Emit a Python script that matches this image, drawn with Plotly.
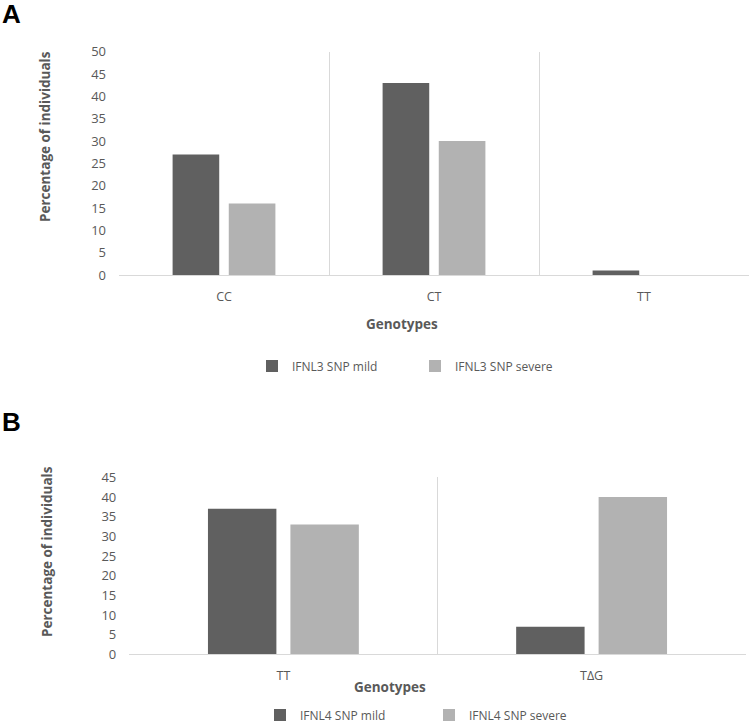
import plotly.graph_objects as go

# ---- data ----
genotypes_a = ["CC", "CT", "TT"]
ifnl3_mild = [27, 43, 1]
ifnl3_severe = [16, 30, 0]

genotypes_b = ["TT", "TΔG"]
ifnl4_mild = [37, 7]
ifnl4_severe = [33, 40]

yticks_a = [0, 5, 10, 15, 20, 25, 30, 35, 40, 45, 50]
yticks_b = [0, 5, 10, 15, 20, 25, 30, 35, 40, 45]

DARK = "#606060"
LIGHT = "#b2b2b2"
TXT = "#595959"
GRID = "#d9d9d9"
FONT = "Open Sans"
W, H = 750, 723

fig = go.Figure()
fig.add_trace(go.Bar(x=genotypes_a, y=ifnl3_mild, name="IFNL3 SNP mild",
                     marker=dict(color=DARK), xaxis="x", yaxis="y", legend="legend"))
fig.add_trace(go.Bar(x=genotypes_a, y=ifnl3_severe, name="IFNL3 SNP severe",
                     marker=dict(color=LIGHT), xaxis="x", yaxis="y", legend="legend"))
fig.add_trace(go.Bar(x=genotypes_b, y=ifnl4_mild, name="IFNL4 SNP mild",
                     marker=dict(color=DARK), xaxis="x2", yaxis="y2", legend="legend2"))
fig.add_trace(go.Bar(x=genotypes_b, y=ifnl4_severe, name="IFNL4 SNP severe",
                     marker=dict(color=LIGHT), xaxis="x2", yaxis="y2", legend="legend2"))

def px_x(p):
    return p / W

def px_y(p):
    return 1 - p / H

xcommon = dict(type="category", showgrid=True, gridcolor=GRID, gridwidth=1,
               tickson="boundaries", ticks="", showline=True, linecolor=GRID,
               tickfont=dict(family=FONT, size=12.5, color=TXT), zeroline=False,
               ticklabelstandoff=10, fixedrange=True, automargin=False)
ycommon = dict(showgrid=False, zeroline=False, showline=False, ticks="",
               tickfont=dict(family=FONT, size=13, color=TXT), ticklabelstandoff=12,
               automargin=False, fixedrange=True)

fig.update_layout(
    template="none",
    width=W, height=H,
    margin=dict(l=0, r=0, t=0, b=0, autoexpand=False),
    paper_bgcolor="white", plot_bgcolor="white",
    bargap=0.465, bargroupgap=0.17,
    barmode="group",
    xaxis=dict(domain=[px_x(119), px_x(749)], anchor="y", range=[-0.5, 2.5], **xcommon),
    yaxis=dict(domain=[px_y(275), px_y(51.7)], anchor="x", range=[0, 50],
               tickvals=yticks_a, **ycommon),
    xaxis2=dict(domain=[px_x(129.3), px_x(745.7)], anchor="y2", range=[-0.5, 1.5], **xcommon),
    yaxis2=dict(domain=[px_y(654.3), px_y(477.3)], anchor="x2", range=[0, 45],
                tickvals=yticks_b, **ycommon),
    legend=dict(orientation="h", x=px_x(252), y=px_y(366), xanchor="left", yanchor="middle",
                xref="container", yref="container",
                font=dict(family=FONT, size=12, color=TXT), entrywidth=118,
                traceorder="normal", bgcolor="rgba(0,0,0,0)"),
    legend2=dict(orientation="h", x=px_x(260), y=px_y(715), xanchor="left", yanchor="middle",
                 xref="container", yref="container",
                 font=dict(family=FONT, size=12, color=TXT), entrywidth=124,
                 traceorder="normal", bgcolor="rgba(0,0,0,0)"),
    showlegend=True,
)

annotations = [
    dict(text="<b>A</b>", x=px_x(0), y=px_y(14), xanchor="left", yanchor="middle",
         font=dict(family="Liberation Sans", size=26, color="black")),
    dict(text="<b>B</b>", x=px_x(0), y=px_y(422), xanchor="left", yanchor="middle",
         font=dict(family="Liberation Sans", size=26, color="black")),
    dict(text="<b>Percentage of individuals</b>", x=px_x(45), y=px_y(137), textangle=-90,
         xanchor="center", yanchor="middle", font=dict(family=FONT, size=13.5, color=TXT)),
    dict(text="<b>Percentage of individuals</b>", x=px_x(47), y=px_y(552), textangle=-90,
         xanchor="center", yanchor="middle", font=dict(family=FONT, size=13.5, color=TXT)),
    dict(text="<b>Genotypes</b>", x=px_x(402), y=px_y(324), xanchor="center", yanchor="middle",
         font=dict(family=FONT, size=13.5, color=TXT)),
    dict(text="<b>Genotypes</b>", x=px_x(390), y=px_y(687), xanchor="center", yanchor="middle",
         font=dict(family=FONT, size=13.5, color=TXT)),
]
for a in annotations:
    a.update(xref="paper", yref="paper", showarrow=False)
fig.update_layout(annotations=annotations)

fig.write_html(
    "out.html",
    config={"displayModeBar": False},
    post_script="document.body.style.margin='0';document.body.style.overflow='hidden';",
)
